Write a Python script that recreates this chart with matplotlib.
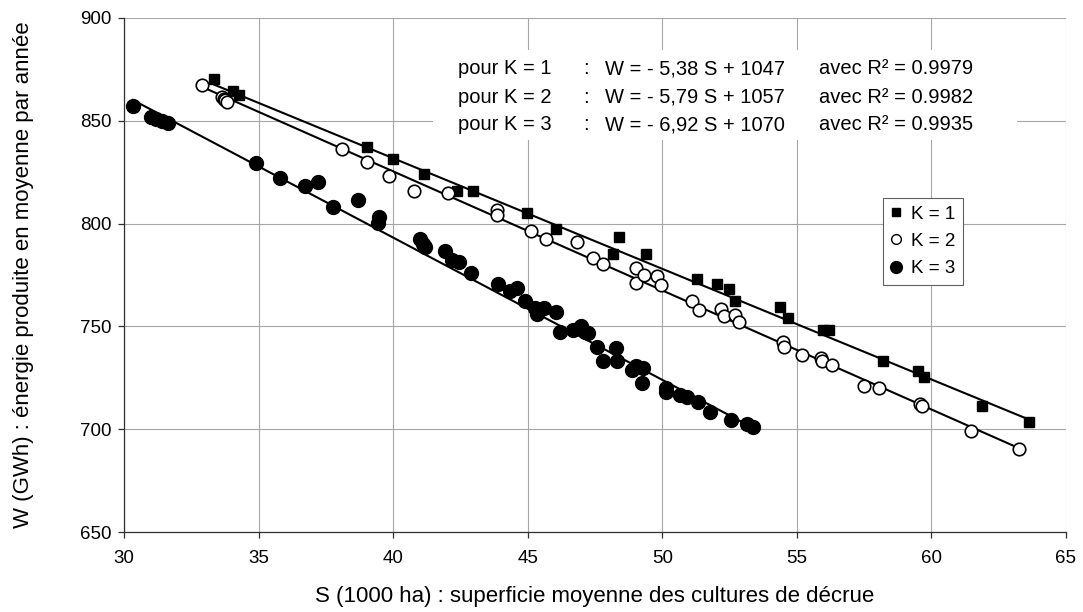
import matplotlib
matplotlib.use("Agg")
import matplotlib.pyplot as plt
import numpy as np
from matplotlib.patches import Rectangle

plt.rcParams["font.family"] = ["Liberation Sans", "DejaVu Sans"]

# K = 1 (filled squares)
s_k1 = [33.36, 34.04, 34.28, 39.02, 40.01, 41.16, 42.38, 42.98, 44.96, 46.04,
        48.18, 48.39, 49.40, 51.28, 52.02, 52.48, 52.70, 54.37, 54.68, 55.98,
        56.21, 58.19, 59.49, 59.72, 61.87, 63.63]
w_k1 = [870.2, 864.5, 862.5, 837.3, 831.3, 824.3, 816.0, 816.0, 805.3, 797.2,
        785.2, 793.3, 785.2, 773.2, 770.5, 768.0, 762.4, 759.6, 754.2, 748.2,
        748.2, 733.3, 728.5, 725.2, 711.3, 703.3]

# K = 2 (open circles)
s_k2 = [32.91, 33.63, 33.70, 33.77, 33.84, 38.09, 39.02, 39.85, 40.79, 42.05,
        43.85, 43.85, 45.12, 45.67, 46.82, 47.41, 47.78, 49.01, 49.01, 49.33,
        49.79, 49.95, 51.09, 51.37, 52.17, 52.29, 52.70, 52.86, 54.47, 54.52,
        55.20, 55.90, 55.94, 56.29, 57.51, 58.05, 59.58, 59.64, 61.47, 63.25]
w_k2 = [867.4, 861.4, 860.7, 860.0, 859.3, 836.1, 830.1, 823.3, 816.0, 815.0,
        806.6, 804.2, 796.4, 792.4, 791.2, 783.1, 780.2, 778.6, 771.3, 775.0,
        774.5, 770.1, 762.4, 758.0, 758.3, 755.0, 755.5, 752.3, 742.6, 740.1,
        736.1, 734.5, 733.3, 731.2, 721.2, 720.2, 712.3, 711.3, 699.3, 690.2]

# K = 3 (filled circles)
s_k3 = [30.33, 31.00, 31.20, 31.42, 31.62, 34.90, 35.80, 36.73, 37.20, 37.78,
        38.71, 39.47, 39.45, 41.00, 41.10, 41.20, 41.93, 42.18, 42.46, 42.89,
        43.91, 44.34, 44.61, 44.90, 45.27, 45.33, 45.61, 46.04, 46.20, 46.70,
        46.98, 47.13, 47.25, 47.56, 48.27, 47.78, 48.33, 48.89, 49.02, 49.27,
        49.26, 50.13, 50.13, 50.66, 50.93, 51.31, 51.77, 52.55, 53.13, 53.38]
w_k3 = [857.3, 852.0, 851.0, 850.0, 849.0, 829.3, 822.3, 818.4, 820.0, 808.2,
        811.5, 803.0, 800.2, 792.5, 790.0, 788.5, 786.8, 782.3, 781.5, 776.1,
        770.5, 767.4, 768.9, 762.5, 758.8, 755.9, 759.1, 757.2, 747.4, 748.2,
        750.3, 747.4, 746.6, 740.0, 739.6, 733.3, 733.3, 728.8, 730.7, 729.6,
        722.3, 719.9, 718.0, 716.6, 715.5, 713.4, 708.5, 704.5, 702.5, 701.2]

# regression coefficients (slope, intercept, R2)
slopes = [-5.38, -5.79, -6.92]
intercepts = [1047, 1057, 1070]
r2 = ["0.9979", "0.9982", "0.9935"]
slope_txt = ["5,38", "5,79", "6,92"]

fig = plt.figure(figsize=(10.83, 6.12), dpi=100)
ax = fig.add_axes([0.1145, 0.1307, 0.8698, 0.8399])

ax.set_xlim(30, 65)
ax.set_ylim(650, 900)
ax.set_xticks(np.arange(30, 66, 5))
ax.set_yticks(np.arange(650, 901, 50))
ax.grid(True, color="#a6a6a6", linewidth=0.8)
ax.set_axisbelow(True)
for side in ["top", "right"]:
    ax.spines[side].set_visible(False)
for side in ["left", "bottom"]:
    ax.spines[side].set_color("#303030")
    ax.spines[side].set_linewidth(0.9)
ax.tick_params(direction="out", length=4, width=0.9, color="#303030",
               labelsize=13.5)
ax.tick_params(axis="x", pad=9)
ax.tick_params(axis="y", pad=5)

# white panel behind the equations
ax.add_patch(Rectangle((0.328, 0.763), 0.62, 0.175, transform=ax.transAxes,
                       facecolor="white", edgecolor="none", zorder=1.5))

series = [(s_k1, w_k1), (s_k2, w_k2), (s_k3, w_k3)]
for (s, w), a, b in zip(series, slopes, intercepts):
    xs = np.array([min(s), max(s)])
    ax.plot(xs, a * xs + b, color="black", linewidth=1.5, zorder=2)

ax.plot(s_k1, w_k1, "s", color="black", markersize=7.5, zorder=3)
ax.plot(s_k2, w_k2, "o", markerfacecolor="white", markeredgecolor="black",
        markeredgewidth=1.2, markersize=9, zorder=3)
ax.plot(s_k3, w_k3, "o", color="black", markersize=10, zorder=4)

# equations
rows_y = [0.901, 0.846, 0.792]
fs_eq = 14.5
for k in range(3):
    y = rows_y[k]
    ax.text(0.3546, y, f"pour K = {k + 1}", transform=ax.transAxes,
            fontsize=fs_eq, va="center", zorder=5)
    ax.text(0.487, y, ":", transform=ax.transAxes, fontsize=fs_eq,
            va="center", zorder=5)
    ax.text(0.511, y, f"W = - {slope_txt[k]} S + {intercepts[k]}",
            transform=ax.transAxes, fontsize=fs_eq, va="center", zorder=5)
    ax.text(0.738, y, f"avec R² = {r2[k]}", transform=ax.transAxes,
            fontsize=fs_eq, va="center", zorder=5)

# legend
h1, = ax.plot([], [], "s", color="black", markersize=6)
h2, = ax.plot([], [], "o", markerfacecolor="white", markeredgecolor="black",
              markeredgewidth=1.0, markersize=7)
h3, = ax.plot([], [], "o", color="black", markersize=8.5)
leg = ax.legend([h1, h2, h3], ["K = 1", "K = 2", "K = 3"],
                loc="upper left", bbox_to_anchor=(0.806, 0.650),
                fontsize=13.5, frameon=True, fancybox=False, framealpha=1,
                edgecolor="#606060", handlelength=0.6, handletextpad=0.5,
                labelspacing=0.55, borderpad=0.4, borderaxespad=0)
leg.get_frame().set_linewidth(0.8)
leg.set_zorder(6)

ax.set_xlabel("S (1000 ha) : superficie moyenne des cultures de décrue",
              fontsize=16, va="center")
ax.set_ylabel("W (GWh) : énergie produite en moyenne par année",
              fontsize=16, va="center")
ax.xaxis.set_label_coords(0.5, -0.126)
ax.yaxis.set_label_coords(-0.107, 0.5)

fig.savefig("out.png", dpi=100)
